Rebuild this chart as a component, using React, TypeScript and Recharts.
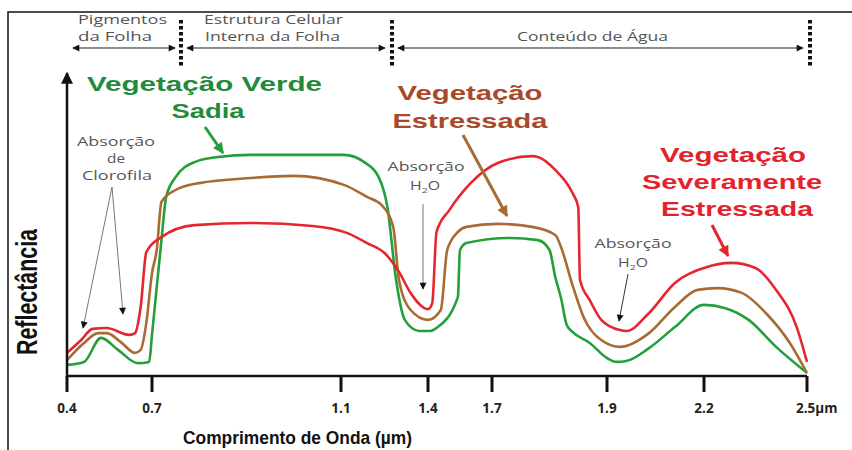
import React from "react";
import { LineChart, Line, XAxis, YAxis } from "recharts";

// axis ticks (wavelength, µm) and where they sit on the drawn axis (0..740, not linear)
const TICK_WL = [0.4, 0.7, 1.1, 1.4, 1.7, 1.9, 2.2, 2.5];
const TICK_LABELS = ["0.4", "0.7", "1.1", "1.4", "1.7", "1.9", "2.2", "2.5µm"];
const TICK_POS = [0, 85, 274, 361, 425, 540, 637, 740];

// healthy green vegetation
const GREEN_WL = [
  0.4, 0.46, 0.52, 0.58, 0.65, 0.69, 0.7, 0.72, 0.73, 0.75, 0.79, 0.84, 0.91,
  1.11, 1.18, 1.23, 1.26, 1.29, 1.32, 1.37, 1.41, 1.44, 1.54, 1.55, 1.58, 1.73,
  1.78, 1.8, 1.81, 1.82, 1.83, 1.84, 1.87, 1.9, 1.93, 1.96, 2.03, 2.11, 2.2,
  2.26, 2.33, 2.41, 2.5,
];
const GREEN_R = [
  3.7, 4.7, 12.7, 8.7, 4.3, 4.7, 13.7, 45.3, 59.7, 66.3, 71.3, 73, 73.7,
  73.7, 71.3, 66.3, 56.3, 32, 18.7, 15, 15, 16, 26.3, 42, 44.3, 46,
  45.3, 42, 33, 26, 17, 14.7, 11, 6, 4.7, 5, 9.3, 16.3, 23.7,
  22.7, 18.7, 9.7, 1,
];

// stressed vegetation
const BROWN_WL = [
  0.4, 0.46, 0.51, 0.54, 0.59, 0.64, 0.66, 0.68, 0.7, 0.71, 0.72, 0.75, 0.8,
  0.91, 1.0, 1.11, 1.19, 1.24, 1.28, 1.3, 1.34, 1.4, 1.46, 1.49, 1.54, 1.58,
  1.71, 1.77, 1.81, 1.82, 1.84, 1.86, 1.89, 1.94, 2.03, 2.11, 2.18, 2.24,
  2.31, 2.38, 2.45, 2.5,
];
const BROWN_R = [
  5.3, 11, 14.3, 14.3, 11.3, 7.7, 8.7, 17.7, 34.3, 42, 58, 62, 64.3,
  66, 66.7, 63.7, 59.7, 57, 49.7, 32, 22, 18.7, 22, 42, 48, 49.7,
  50.7, 49.7, 47, 43, 30.3, 19.3, 12, 9.7, 14.3, 23, 28.7, 29.3,
  27.7, 21, 11, 1,
];

// severely stressed vegetation
const RED_WL = [
  0.4, 0.45, 0.49, 0.54, 0.62, 0.64, 0.66, 0.68, 0.72, 0.79, 0.91, 1.04, 1.12,
  1.19, 1.25, 1.3, 1.34, 1.4, 1.42, 1.44, 1.5, 1.6, 1.71, 1.77, 1.78, 1.81,
  1.84, 1.85, 1.853, 1.87, 1.89, 1.94, 1.96, 2.03, 2.11, 2.2, 2.28, 2.35,
  2.41, 2.47, 2.5,
];
const RED_R = [
  7.7, 12, 15.7, 16, 13.7, 14.3, 23, 41.3, 46.3, 50.3, 51, 50, 47.7,
  44.3, 41, 34.7, 27.7, 22.3, 24.3, 48, 55.3, 64.3, 71, 73.3, 73, 68.7,
  61, 56.3, 32, 25.3, 18.7, 15.3, 15, 21, 31, 36, 37.7, 36,
  28.7, 16.3, 4.7,
];

// wavelength -> position on the drawn axis (piecewise between ticks)
function warp(wl: number) {
  for (let i = 1; i < TICK_WL.length; i++) {
    if (wl <= TICK_WL[i]) {
      const t = (wl - TICK_WL[i - 1]) / (TICK_WL[i] - TICK_WL[i - 1]);
      return TICK_POS[i - 1] + t * (TICK_POS[i] - TICK_POS[i - 1]);
    }
  }
  return TICK_POS[TICK_POS.length - 1];
}

const toSeries = (wl: number[], r: number[]) =>
  wl.map((w, i) => ({ x: warp(w), r: r[i] }));

const GREEN = "#23a03c";
const BROWN = "#a86b33";
const RED = "#e5262f";
const GRAY = "#555";
const SANS = "'Liberation Sans', Arial, sans-serif";
const CAL = "'Open Sans', 'Liberation Sans', sans-serif";

const WaveTick = ({ x, y, payload }: any) => {
  const i = TICK_POS.indexOf(payload.value);
  const last = i === TICK_POS.length - 1;
  return (
    <text
      x={last ? x - 11 : x}
      y={y + 19}
      textAnchor={last ? "start" : "middle"}
      fill="#222"
      style={{ fontFamily: CAL, fontSize: 13.5, fontWeight: 700 }}
    >
      {TICK_LABELS[i]}
    </text>
  );
};

const H2O = () => (
  <>
    H<tspan dy={3} fontSize={8}>2</tspan>
    <tspan dy={-3}>O</tspan>
  </>
);

export default function App() {
  const green = toSeries(GREEN_WL, GREEN_R);
  const brown = toSeries(BROWN_WL, BROWN_R);
  const red = toSeries(RED_WL, RED_R);

  const gray = { fill: GRAY, fontFamily: CAL, fontSize: 13 } as const;
  const note = { fill: GRAY, fontFamily: CAL, fontSize: 12 } as const;

  return (
    <div style={{ position: "absolute", left: 0, top: 0, width: 852, height: 450, background: "#fff" }}>
      <div style={{ position: "absolute", left: 0, top: 0 }}>
        <LineChart width={852} height={450} margin={{ top: 76, right: 45, bottom: 0, left: 67 }}>
          <XAxis
            type="number"
            dataKey="x"
            domain={[0, 740]}
            ticks={TICK_POS}
            interval={0}
            tick={<WaveTick />}
            tickSize={16}
            tickLine={{ stroke: "#111", strokeWidth: 3 }}
            axisLine={{ stroke: "#111", strokeWidth: 2.5 }}
            height={74}
          />
          <YAxis hide domain={[0, 100]} />
          <Line data={green} dataKey="r" type="monotone" stroke={GREEN} strokeWidth={2.6} dot={false} isAnimationActive={false} />
          <Line data={brown} dataKey="r" type="monotone" stroke={BROWN} strokeWidth={2.6} dot={false} isAnimationActive={false} />
          <Line data={red} dataKey="r" type="monotone" stroke={RED} strokeWidth={2.6} dot={false} isAnimationActive={false} />
        </LineChart>
      </div>

      <svg width={852} height={450} style={{ position: "absolute", left: 0, top: 0, pointerEvents: "none" }}>
        <defs>
          <marker id="hd" viewBox="0 0 10 10" refX="9" refY="5" markerUnits="userSpaceOnUse" markerWidth="8" markerHeight="7" orient="auto-start-reverse">
            <path d="M0,0 L10,5 L0,10 z" fill="#111" />
          </marker>
          <marker id="hy" viewBox="0 0 10 10" refX="9" refY="5" markerUnits="userSpaceOnUse" markerWidth="13" markerHeight="12" orient="auto">
            <path d="M0,0 L10,5 L0,10 z" fill="#111" />
          </marker>
          <marker id="hg" viewBox="0 0 10 10" refX="9" refY="5" markerUnits="userSpaceOnUse" markerWidth="12" markerHeight="11" orient="auto">
            <path d="M0,0 L10,5 L0,10 z" fill={GREEN} />
          </marker>
          <marker id="hb" viewBox="0 0 10 10" refX="9" refY="5" markerUnits="userSpaceOnUse" markerWidth="12" markerHeight="11" orient="auto">
            <path d="M0,0 L10,5 L0,10 z" fill={BROWN} />
          </marker>
          <marker id="hr" viewBox="0 0 10 10" refX="9" refY="5" markerUnits="userSpaceOnUse" markerWidth="12" markerHeight="11" orient="auto">
            <path d="M0,0 L10,5 L0,10 z" fill={RED} />
          </marker>
        </defs>

        {/* frame */}
        <path d="M8,450 L8,12 L852,12" fill="none" stroke="#111" strokeWidth={1.5} />

        {/* spectral regions along the top */}
        <text x={78} y={24} textLength={89} lengthAdjust="spacingAndGlyphs" {...gray}>Pigmentos</text>
        <text x={78} y={41} textLength={74} lengthAdjust="spacingAndGlyphs" {...gray}>da Folha</text>
        <text x={204} y={24} textLength={139} lengthAdjust="spacingAndGlyphs" {...gray}>Estrutura Celular</text>
        <text x={205} y={41} textLength={135} lengthAdjust="spacingAndGlyphs" {...gray}>Interna da Folha</text>
        <text x={517} y={41} textLength={151} lengthAdjust="spacingAndGlyphs" {...gray}>Conteúdo de Água</text>
        <line x1={73} y1={48} x2={175} y2={48} stroke="#666" strokeWidth={1.3} markerStart="url(#hd)" markerEnd="url(#hd)" />
        <line x1={187} y1={48} x2={385} y2={48} stroke="#666" strokeWidth={1.3} markerStart="url(#hd)" markerEnd="url(#hd)" />
        <line x1={398} y1={48} x2={803} y2={48} stroke="#666" strokeWidth={1.3} markerStart="url(#hd)" markerEnd="url(#hd)" />
        {[181, 392, 810].map((x) => (
          <line key={x} x1={x} y1={20} x2={x} y2={67} stroke="#111" strokeWidth={4} strokeDasharray="3.5 2.5" />
        ))}

        {/* y axis with arrow */}
        <line x1={67} y1={377} x2={67} y2={73} stroke="#111" strokeWidth={2.5} markerEnd="url(#hy)" />
        <text
          x={37}
          y={292}
          transform="rotate(-90 37 292)"
          textAnchor="middle"
          textLength={126}
          lengthAdjust="spacingAndGlyphs"
          fill="#111"
          style={{ fontFamily: "'Liberation Sans Narrow', " + SANS, fontSize: 30, fontWeight: 700 }}
        >
          Reflectância
        </text>

        {/* x axis title */}
        <text x={183} y={444} textLength={229} lengthAdjust="spacingAndGlyphs" fill="#111" style={{ fontFamily: SANS, fontSize: 18.5, fontWeight: 700 }}>
          Comprimento de Onda (µm)
        </text>

        {/* series names */}
        <g style={{ fontFamily: SANS, fontSize: 21, fontWeight: 700 }}>
          <text x={87} y={91} textLength={235} lengthAdjust="spacingAndGlyphs" fill="#238a3b">Vegetação Verde</text>
          <text x={208} y={118} textAnchor="middle" textLength={73} lengthAdjust="spacingAndGlyphs" fill="#238a3b">Sadia</text>
          <text x={470} y={100} textAnchor="middle" textLength={145} lengthAdjust="spacingAndGlyphs" fill="#a8492b">Vegetação</text>
          <text x={470} y={128} textAnchor="middle" textLength={155} lengthAdjust="spacingAndGlyphs" fill="#a8492b">Estressada</text>
          <text x={733} y={162} textAnchor="middle" textLength={146} lengthAdjust="spacingAndGlyphs" fill="#e3232c">Vegetação</text>
          <text x={732} y={189} textAnchor="middle" textLength={180} lengthAdjust="spacingAndGlyphs" fill="#e3232c">Severamente</text>
          <text x={737} y={216} textAnchor="middle" textLength={152} lengthAdjust="spacingAndGlyphs" fill="#e3232c">Estressada</text>
        </g>
        <line x1={205} y1={127} x2={223} y2={153} stroke={GREEN} strokeWidth={3} markerEnd="url(#hg)" />
        <line x1={463} y1={135} x2={507} y2={216} stroke={BROWN} strokeWidth={3} markerEnd="url(#hb)" />
        <line x1={712} y1={225} x2={728} y2={256} stroke={RED} strokeWidth={3} markerEnd="url(#hr)" />

        {/* absorption notes */}
        <text x={116} y={146} textAnchor="middle" textLength={78} lengthAdjust="spacingAndGlyphs" {...note}>Absorção</text>
        <text x={116} y={163} textAnchor="middle" textLength={18} lengthAdjust="spacingAndGlyphs" {...note}>de</text>
        <text x={117} y={180} textAnchor="middle" textLength={70} lengthAdjust="spacingAndGlyphs" {...note}>Clorofila</text>
        <line x1={112} y1={187} x2={83} y2={328} stroke="#777" strokeWidth={1} markerEnd="url(#hd)" />
        <line x1={112} y1={187} x2={123} y2={314} stroke="#777" strokeWidth={1} markerEnd="url(#hd)" />

        <text x={426} y={171} textAnchor="middle" textLength={77} lengthAdjust="spacingAndGlyphs" {...note}>Absorção</text>
        <text x={425} y={190} textAnchor="middle" textLength={30} lengthAdjust="spacingAndGlyphs" {...note}><H2O /></text>
        <line x1={423} y1={204} x2={423} y2={289} stroke="#777" strokeWidth={1} markerEnd="url(#hd)" />

        <text x={633} y={248} textAnchor="middle" textLength={77} lengthAdjust="spacingAndGlyphs" {...note}>Absorção</text>
        <text x={633} y={267} textAnchor="middle" textLength={30} lengthAdjust="spacingAndGlyphs" {...note}><H2O /></text>
        <line x1={628} y1={274} x2={619} y2={321} stroke="#333" strokeWidth={1} markerEnd="url(#hd)" />
      </svg>
    </div>
  );
}
